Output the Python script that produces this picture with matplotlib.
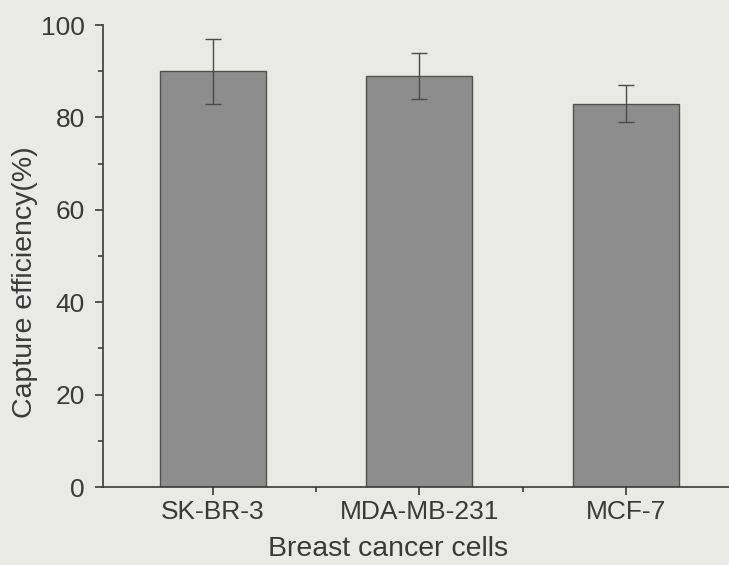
import numpy as np
import matplotlib
matplotlib.use("Agg")
import matplotlib.pyplot as plt
from matplotlib.ticker import MultipleLocator, FixedLocator

# datos
celulas = ["SK-BR-3", "MDA-MB-231", "MCF-7"]
eficiencia = [90, 89, 83]
error = [7, 5, 4]

plt.rcParams["font.family"] = ["Liberation Sans", "DejaVu Sans"]

fondo = "#e9e9e6"
tinta = "#3a3a3a"

fig = plt.figure(figsize=(7.29, 5.65), dpi=100, facecolor=fondo)
ax = fig.add_axes([0.1413, 0.138, 0.8587, 0.8177], facecolor=fondo)

x = np.arange(1, len(celulas) + 1)
ax.bar(x, eficiencia, width=0.513, color="#8d8d8d", edgecolor="#505050", linewidth=1.0,
       yerr=error, error_kw=dict(ecolor="#4a4a4a", elinewidth=1.0, capsize=6, capthick=1.0))

ax.set_xlim(0.468, 3.5)
ax.set_ylim(0, 100)
ax.set_xticks(x)
ax.set_xticklabels(celulas)
ax.xaxis.set_minor_locator(FixedLocator([1.5, 2.5]))
ax.yaxis.set_major_locator(MultipleLocator(20))
ax.yaxis.set_minor_locator(MultipleLocator(10))

for lado in ["top", "right"]:
    ax.spines[lado].set_visible(False)
for lado in ["left", "bottom"]:
    ax.spines[lado].set_color(tinta)
    ax.spines[lado].set_linewidth(1.2)

ax.tick_params(which="major", direction="out", length=6, width=1.2, color=tinta,
               labelsize=19, labelcolor=tinta)
ax.tick_params(axis="y", which="major", pad=7)
ax.tick_params(axis="x", which="major", pad=3)
ax.tick_params(which="minor", direction="out", length=3.5, width=1.2, color=tinta)

ax.set_xlabel("Breast cancer cells", fontsize=20.5, color=tinta)
ax.set_ylabel("Capture efficiency(%)", fontsize=20.5, color=tinta)
ax.xaxis.set_label_coords(0.455, -0.105)
ax.yaxis.set_label_coords(-0.104, 0.443)

fig.savefig("out.png", dpi=100, facecolor=fondo)
